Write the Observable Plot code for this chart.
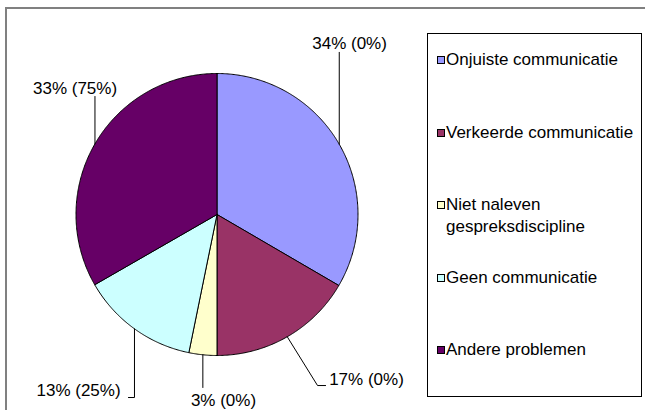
<!DOCTYPE html>
<html>
<head>
<meta charset="utf-8">
<script src="https://cdn.jsdelivr.net/npm/d3@7"></script>
<script src="https://cdn.jsdelivr.net/npm/@observablehq/plot@0.6"></script>
<style>
  html, body { margin: 0; padding: 0; background: #fff; }
  #chart { position: relative; width: 645px; height: 410px; overflow: hidden; font-family: "Liberation Sans", Arial, sans-serif; }
  #chart svg { position: absolute; left: 0; top: 0; }
  .frame { position: absolute; left: 5px; top: 7px; width: 700px; height: 500px; border-left: 2px solid #808080; border-top: 2px solid #808080; box-sizing: border-box; }
  .legend { position: absolute; left: 427px; top: 33px; width: 215px; height: 364px; border: 1px solid #000; box-sizing: border-box; background: #fff; }
  .item { position: absolute; left: 0; width: 213px; font-size: 17px; line-height: 22px; color: #000; }
  .item .sw { position: absolute; left: 9px; top: 7px; width: 8px; height: 8px; border: 1px solid #000; box-sizing: border-box; }
  .item .lb { position: absolute; left: 18px; top: 0; width: 192px; }
</style>
</head>
<body>
<div id="chart"><div class="frame"></div></div>
<script>
// ---- data ----
const categories = ["Onjuiste communicatie", "Verkeerde communicatie", "Niet naleven gespreksdiscipline", "Geen communicatie", "Andere problemen"];
const shares = [33.4, 16.6, 3.2, 13.5, 33.3];
const labelTexts = ["34% (0%)", "17% (0%)", "3% (0%)", "13% (25%)", "33% (75%)"];
const colors = ["#9999FF", "#993366", "#FFFFCC", "#CCFFFF", "#660066"];

// ---- layout (pie units: radius = 1) ----
const labelAt = [[0.94, 1.213], [1.06, -1.17], [0.046, -1.318], [-0.982, -1.248], [-1.007, 0.894]];
const leaderBends = [[[null, 1.15]], [[0.713, -1.213], [0.77, -1.213]], [[null, -1.227]], [[null, -1.298], [-0.628, -1.298]], [[null, 0.837]]];

const arcs = d3.pie().sort(null).value(d => d)(shares);

// slice outlines
const slicePts = [];
arcs.forEach((a, i) => {
  const cat = categories[i];
  slicePts.push({cat, x: 0, y: 0});
  const n = Math.max(4, Math.ceil((a.endAngle - a.startAngle) / (Math.PI / 360)));
  for (let k = 0; k <= n; k++) {
    const t = a.startAngle + (a.endAngle - a.startAngle) * k / n;
    slicePts.push({cat, x: Math.sin(t), y: Math.cos(t)});
  }
  slicePts.push({cat, x: 0, y: 0});
});

// leader lines
const leaderPts = [];
arcs.forEach((a, i) => {
  const m = (a.startAngle + a.endAngle) / 2;
  const sx = Math.sin(m), sy = Math.cos(m);
  leaderPts.push({i, x: sx, y: sy});
  leaderBends[i].forEach(([bx, by]) => leaderPts.push({i, x: bx === null ? sx : bx, y: by}));
});

const labels = labelTexts.map((t, i) => ({t, x: labelAt[i][0], y: labelAt[i][1]}));

const plot = Plot.plot({
  width: 645,
  height: 410,
  marginLeft: 75.5,
  marginRight: 287.5,
  marginTop: 73,
  marginBottom: 55,
  x: {domain: [-1, 1], axis: null},
  y: {domain: [-1, 1], axis: null},
  color: {domain: categories, range: colors},
  style: {fontFamily: "'Liberation Sans', Arial, sans-serif", background: "transparent", overflow: "visible"},
  marks: [
    Plot.line(slicePts, {x: "x", y: "y", z: "cat", fill: "cat", stroke: "#000", strokeWidth: 1, curve: "linear", strokeLinejoin: "round"}),
    Plot.line(leaderPts, {x: "x", y: "y", z: "i", stroke: "#000", strokeWidth: 1}),
    Plot.text(labels, {x: "x", y: "y", text: "t", fontSize: 17, fill: "#000", textAnchor: "middle"})
  ]
});
document.getElementById("chart").appendChild(plot);

// legend
const legend = document.createElement("div");
legend.className = "legend";
categories.forEach((c, i) => {
  const it = document.createElement("div");
  it.className = "item";
  it.style.top = (15 + i * 72.5) + "px";
  const sw = document.createElement("div");
  sw.className = "sw";
  sw.style.background = colors[i];
  const lb = document.createElement("div");
  lb.className = "lb";
  lb.textContent = c;
  it.appendChild(sw);
  it.appendChild(lb);
  legend.appendChild(it);
});
document.getElementById("chart").appendChild(legend);
</script>
</body>
</html>
